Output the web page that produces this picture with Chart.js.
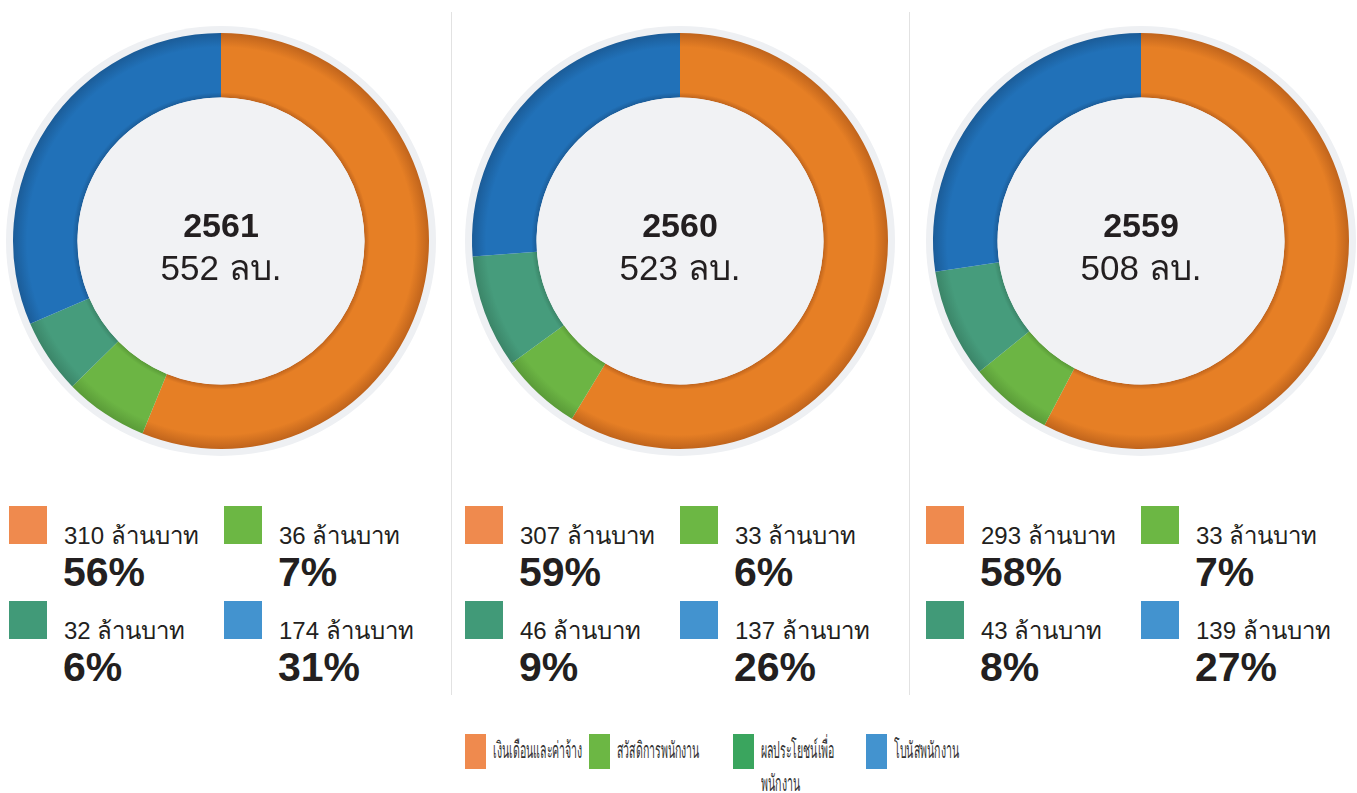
<!DOCTYPE html>
<html>
<head>
<meta charset="utf-8">
<script src="https://cdn.jsdelivr.net/npm/chart.js"></script>
<style>
  body { margin: 0; background: #fff; font-family: "Liberation Sans", Arial, sans-serif; color: #231f20; }
  #wrap { position: relative; width: 1357px; height: 793px; overflow: hidden; }
  canvas.pie { position: absolute; }
  .divider { position: absolute; top: 12px; width: 1px; height: 683px; background: #e2e2e2; }
  .sw { position: absolute; width: 38px; height: 38px; }
  .amt { position: absolute; font-size: 24px; line-height: 24px; white-space: nowrap; color: #231f20; }
  .pct { position: absolute; font-size: 41px; line-height: 41px; font-weight: bold; color: #231f20; }
  .lg-sw { position: absolute; width: 21px; height: 35px; top: 734px; }
  .lg-txt { position: absolute; top: 734px; font-size: 23px; line-height: 33px; color: #333;
            transform: scaleX(0.46); transform-origin: 0 0; }
</style>
</head>
<body>
<div id="wrap"></div>
<script>
// categories (order drawn clockwise from the top)
const categories = ['เงินเดือนและค่าจ้าง', 'สวัสดิการพนักงาน', 'ผลประโยชน์เพื่อพนักงาน', 'โบนัสพนักงาน'];
const years = ['2561', '2560', '2559'];
const totals = [552, 523, 508];

// values in million baht, per year
const values2561 = [310, 36, 32, 174];
const values2560 = [307, 33, 46, 137];
const values2559 = [293, 33, 43, 139];
const allValues = [values2561, values2560, values2559];

// percentages as printed
const pct2561 = [56, 7, 6, 31];
const pct2560 = [59, 6, 9, 26];
const pct2559 = [58, 7, 8, 27];
const allPct = [pct2561, pct2560, pct2559];

// colours
const ringColors = ['#e67f25', '#6cb544', '#469c7c', '#2171b8'];
const ringEdge = ['#c0641c', '#5a9b38', '#3b8568', '#1b5c98'];
const swatchColors = ['#ef8a4e', '#6cb744', '#419a78', '#4393cf'];
const legendColors = ['#ef8a4e', '#6cb744', '#3aa55e', '#4393cf'];

const wrap = document.getElementById('wrap');

// layout
const centersX = [221, 680, 1141];
const centerY = 241;
const blockX = [9, 465, 926];

function el(cls, style, text) {
  const d = document.createElement('div');
  d.className = cls;
  Object.assign(d.style, style);
  if (text !== undefined) d.textContent = text;
  wrap.appendChild(d);
  return d;
}

// dividers
el('divider', {left: '451px'});
el('divider', {left: '909px'});

const ringBg = {
  id: 'ringBg',
  beforeDatasetsDraw(chart) {
    const arc = chart.getDatasetMeta(0).data[0];
    if (!arc) return;
    const p = arc.getProps(['x', 'y', 'outerRadius', 'innerRadius'], true);
    const ctx = chart.ctx;
    ctx.save();
    ctx.beginPath();
    ctx.arc(p.x, p.y, p.outerRadius + 7, 0, Math.PI * 2);
    ctx.fillStyle = '#eef0f3';
    ctx.fill();
    ctx.restore();
  },
  afterDatasetsDraw(chart, args, opts) {
    const arc = chart.getDatasetMeta(0).data[0];
    if (!arc) return;
    const p = arc.getProps(['x', 'y', 'outerRadius', 'innerRadius'], true);
    const ctx = chart.ctx;
    ctx.save();
    ctx.beginPath();
    ctx.arc(p.x, p.y, p.innerRadius, 0, Math.PI * 2);
    ctx.fillStyle = '#f1f2f4';
    ctx.fill();
    ctx.fillStyle = '#231f20';
    ctx.textAlign = 'center';
    ctx.textBaseline = 'alphabetic';
    ctx.font = 'bold 34px "Liberation Sans", Arial, sans-serif';
    ctx.fillText(opts.year, p.x, p.y - 4);
    ctx.font = '35px "Liberation Sans", Arial, sans-serif';
    ctx.fillText(opts.total + ' ลบ.', p.x, p.y + 39);
    ctx.restore();
  }
};

// radial shading on each segment, darker at the ring edges
function shade(c) {
  const i = c.dataIndex;
  const chart = c.chart;
  const a = chart.chartArea;
  if (!a) return ringColors[i];
  const cx = (a.left + a.right) / 2, cy = (a.top + a.bottom) / 2;
  const r = Math.min(a.right - a.left, a.bottom - a.top) / 2;
  const g = chart.ctx.createRadialGradient(cx, cy, r * 0.69, cx, cy, r);
  g.addColorStop(0, ringEdge[i]);
  g.addColorStop(0.08, ringColors[i]);
  g.addColorStop(0.78, ringColors[i]);
  g.addColorStop(1, ringEdge[i]);
  return g;
}

years.forEach((yr, k) => {
  const cv = document.createElement('canvas');
  cv.className = 'pie';
  cv.width = 440; cv.height = 440;
  cv.style.left = (centersX[k] - 220) + 'px';
  cv.style.top = (centerY - 220) + 'px';
  cv.style.width = '440px'; cv.style.height = '440px';
  wrap.appendChild(cv);

  new Chart(cv, {
    type: 'doughnut',
    data: {
      labels: categories,
      datasets: [{
        data: allValues[k],
        backgroundColor: shade,
        borderWidth: 0,
        offset: 0,
        hoverOffset: 0
      }]
    },
    options: {
      responsive: false,
      animation: false,
      cutout: '69%',
      layout: {padding: 12},
      plugins: {
        legend: {display: false},
        tooltip: {enabled: false},
        ringBg: {year: yr, total: totals[k]}
      }
    },
    plugins: [ringBg]
  });

  // value blocks under each ring
  const bx = blockX[k];
  const cols = [bx, bx + 215];
  const rows = [506, 601];
  for (let i = 0; i < 4; i++) {
    const x = cols[i % 2 === 0 ? 0 : 1];
    const y = rows[i < 2 ? 0 : 1];
    el('sw', {left: x + 'px', top: y + 'px', background: swatchColors[i]});
    el('amt', {left: (x + 55) + 'px', top: (y + 18) + 'px'}, allValues[k][i] + ' ล้านบาท');
    el('pct', {left: (x + 54) + 'px', top: (y + 46) + 'px'}, allPct[k][i] + '%');
  }
});

// bottom legend
const legendSwX = [465, 589, 733, 866];
const legendWidth = [400, 400, 185, 400];
categories.forEach((name, i) => {
  el('lg-sw', {left: legendSwX[i] + 'px', background: legendColors[i]});
  el('lg-txt', {left: (legendSwX[i] + 28) + 'px', width: legendWidth[i] + 'px'}, name);
});
</script>
</body>
</html>
